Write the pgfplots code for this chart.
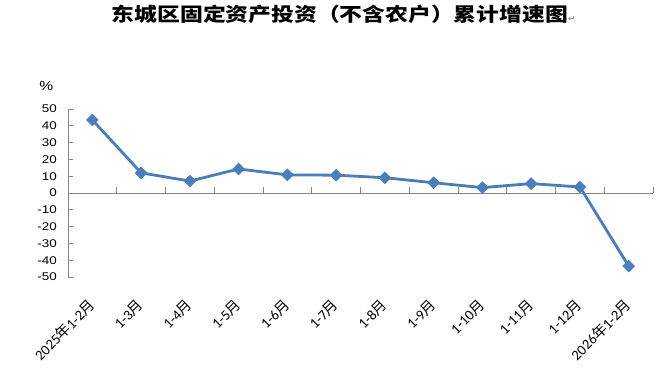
\documentclass[border=0pt]{standalone}
\usepackage{pgfplots}
\pgfplotsset{compat=1.18}
\usepackage{fontspec}
\setmainfont{Liberation Sans}
\newfontfamily\cjk{Noto Sans CJK SC}
\newfontfamily\carlito{Carlito}
\newfontfamily\dejavu{DejaVu Sans}
\newcommand\yue{{\cjk 月}}
\newcommand\nian{{\cjk 年}}
\definecolor{lineblue}{RGB}{74,126,187}
\definecolor{axgray}{RGB}{134,134,134}
\begin{document}
\begin{tikzpicture}[x=1pt,y=1pt]
\path[use as bounding box] (0,0) rectangle (668,381);
\node[font=\cjk\bfseries\fontsize{19}{21}\selectfont, anchor=center, xscale=1.2, inner sep=0pt] at (344,367) {东城区固定资产投资（不含农户）累计增速图{\mdseries\dejavu\fontsize{8}{9}\selectfont\color{gray}↵}};
\begin{axis}[
  at={(68pt,104pt)}, anchor=south west,
  scale only axis, width=585pt, height=168pt,
  xmin=-0.5, xmax=11.5, ymin=-50, ymax=50,
  axis y line=left, axis x line=bottom,
  x axis line style={draw=none},
  y axis line style={axgray, -, line width=0.8pt},
  ytick={-50,-40,...,50},
  ytick style={axgray, line width=0.8pt},
  tick align=inside,
  major tick length=5pt,
  yticklabel style={font=\fontsize{11.2}{13}\selectfont, /pgf/number format/assume math mode=true, xshift=-7pt, xscale=1.2},
  xtick={0,...,11},
  xtick style={draw=none},
  xticklabels={2025\nian 1-2\yue,1-3\yue,1-4\yue,1-5\yue,1-6\yue,1-7\yue,1-8\yue,1-9\yue,1-10\yue,1-11\yue,1-12\yue,2026\nian 1-2\yue},
  xticklabel style={font=\carlito\fontsize{14.5}{16}\selectfont, xshift=2pt, yshift=-23pt, rotate=45, anchor=east},
  clip=false,
]
\draw[axgray, line width=0.8pt] (axis cs:-0.5,0) -- (axis cs:11.5,0);
\pgfplotsinvokeforeach{0.5,1.5,2.5,3.5,4.5,5.5,6.5,7.5,8.5,9.5,10.5,11.5}{
  \draw[axgray, line width=0.8pt] (axis cs:#1,0) -- ([yshift=6pt]axis cs:#1,0);
}
\addplot[lineblue, line width=2.8pt, mark=square*, mark size=4.2pt, mark options={solid, rotate=45, fill=lineblue, line width=0.5pt}] coordinates {
(0,43.5) (1,12) (2,7.1) (3,14.3) (4,10.8) (5,10.6) (6,9.1) (7,6.1) (8,3.2) (9,5.6) (10,3.6) (11,-43.5)
};
\node[font=\fontsize{13}{15}\selectfont, xscale=1.2] at (rel axis cs:0,1) [xshift=-18pt, yshift=23pt] {\%};
\end{axis}
\end{tikzpicture}
\end{document}
